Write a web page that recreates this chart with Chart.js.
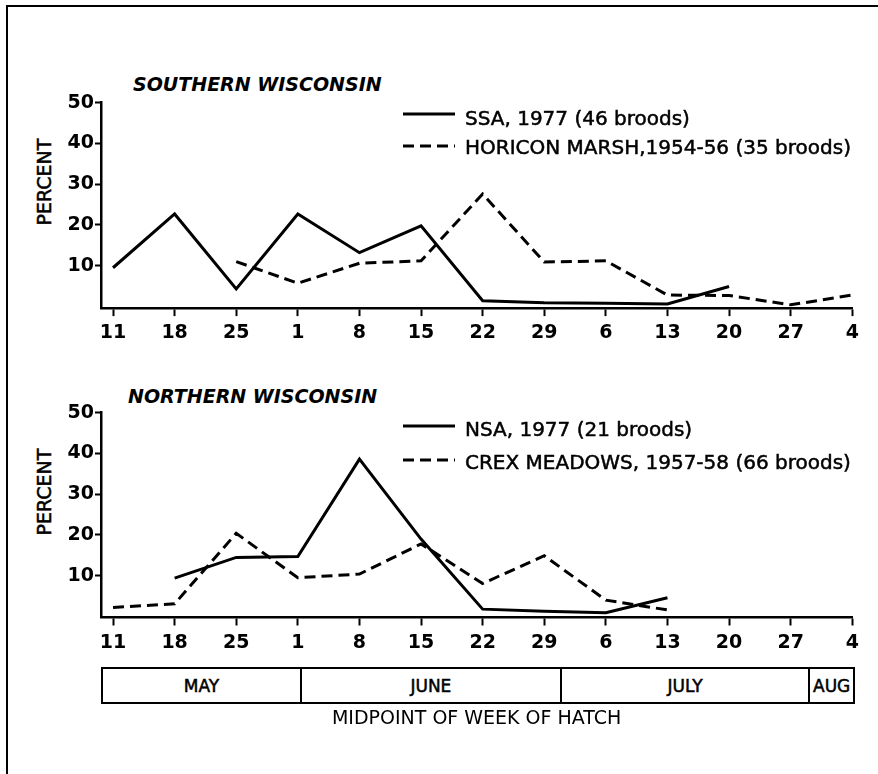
<!DOCTYPE html>
<html>
<head>
<meta charset="utf-8">
<script src="https://cdn.jsdelivr.net/npm/chart.js@4.4.1/dist/chart.umd.min.js"></script>
<style>
  html, body { margin: 0; padding: 0; background: #fff; }
  body { width: 878px; height: 774px; position: relative; overflow: hidden;
         font-family: "DejaVu Sans", sans-serif; color: #000; }
  #frame { position: absolute; left: 6px; top: 5px; width: 900px; height: 800px;
           border-top: 2px solid #000; border-left: 2px solid #000; }
  .panel { position: absolute; left: 0; }
  canvas { display: block; }
  .ptitle { position: absolute; font: italic bold 19px "DejaVu Sans", sans-serif;
            line-height: 20px; white-space: nowrap; }
  .ylab { position: absolute; font-size: 19px; line-height: 19px; white-space: nowrap;
          -webkit-text-stroke: 0.5px #000;
          transform: translate(-50%, -50%) rotate(-90deg); }
  .lrow { position: absolute; height: 30px; line-height: 30px; font-size: 20px; white-space: nowrap;
          -webkit-text-stroke: 0.5px #000; }
  .lrow svg { position: absolute; left: 0; }
  .lrow span { position: absolute; left: 62px; top: 0; }
  .mcell { position: absolute; box-sizing: border-box; border: 2px solid #000;
           display: flex; align-items: center; justify-content: center;
           font-size: 17px; background: #fff; -webkit-text-stroke: 0.5px #000; }
</style>
</head>
<body>
<div id="frame"></div>

<div class="ptitle" style="left:133px; top:74px;">SOUTHERN WISCONSIN</div>
<div class="ptitle" style="left:128px; top:386px;">NORTHERN WISCONSIN</div>
<div class="ylab" style="left:43.5px; top:182px;">PERCENT</div>
<div class="ylab" style="left:43.5px; top:492px;">PERCENT</div>

<div class="panel" style="top:0px;"><canvas id="south" width="878" height="350"></canvas></div>
<div class="panel" style="top:360px;"><canvas id="north" width="878" height="414"></canvas></div>
<div id="legendSouth"></div>
<div id="legendNorth"></div>
<div id="monthBar"></div>

<script>
// ---- data ----
const xLabels = ['11','18','25','1','8','15','22','29','6','13','20','27','4'];
const yTicks = [10, 20, 30, 40, 50];

const ssa1977   = [9.5, 22.7, 4.3, 22.7, 13.2, 19.8, 1.4, 0.9, 0.8, 0.6, 4.9, null, null];
const horicon   = [null, null, 11.0, 5.7, 10.6, 11.2, 27.6, 10.9, 11.2, 2.8, 2.7, 0.4, 2.8];
const nsa1977   = [null, 9.4, 14.5, 14.7, 38.6, 19.0, 1.8, 1.3, 0.9, 4.6, null, null, null];
const crex      = [2.2, 3.1, 20.4, 9.5, 10.4, 17.8, 8.1, 14.9, 4.0, 1.6, null, null, null];

const southLabels = ['SSA, 1977 (46 broods)', 'HORICON MARSH,1954-56 (35 broods)'];
const northLabels = ['NSA, 1977 (21 broods)', 'CREX MEADOWS, 1957-58 (66 broods)'];

const months = ['MAY', 'JUNE', 'JULY', 'AUG'];
const monthEdges = [-0.18, 3.05, 7.27, 11.3, 12.03]; // in week-index units of the x scale

// ---- drawing ----
const FONT = '"DejaVu Sans", sans-serif';
const DASH = [11, 6];

function toPoints(values) {
  return values.map((v, i) => ({ x: i, y: v })).filter(p => p.y !== null);
}

function makeChart(canvas, series, o) {
  return new Chart(canvas, {
    type: 'line',
    data: {
      datasets: series.map(s => ({
        label: s.label,
        data: toPoints(s.values),
        borderColor: '#000',
        backgroundColor: '#000',
        borderWidth: 3,
        borderDash: s.dash,
        pointRadius: 0,
        pointHoverRadius: 0,
        fill: false,
        tension: 0
      }))
    },
    options: {
      responsive: false,
      animation: false,
      devicePixelRatio: 1,
      events: [],
      layout: { padding: { top: o.padTop, left: 0, right: 25.7, bottom: o.padBottom } },
      plugins: { legend: { display: false }, tooltip: { enabled: false } },
      scales: {
        x: {
          type: 'linear', min: -0.195, max: 12,
          afterBuildTicks: s => { s.ticks = xLabels.map((_, i) => ({ value: i })); },
          afterFit: s => { s.height = o.xHeight; },
          ticks: { autoSkip: false, maxRotation: 0, color: '#000', padding: 6,
                   font: { family: FONT, size: 19, weight: 'bold' },
                   callback: (v, i) => xLabels[i] },
          grid: { drawOnChartArea: false, drawTicks: true, tickLength: 8, tickWidth: 2, tickColor: '#000' },
          border: { display: true, color: '#000', width: 2.5 },
          title: o.xTitle ? { display: true, text: o.xTitle, color: '#000',
                              font: { family: FONT, size: 19 }, padding: { top: 0, bottom: 0 } }
                          : { display: false }
        },
        y: {
          type: 'linear', min: o.yMin, max: 50,
          afterBuildTicks: s => { s.ticks = yTicks.map(v => ({ value: v })); },
          afterFit: s => { s.width = 101; },
          ticks: { color: '#000', padding: 1, font: { family: FONT, size: 19, weight: 'bold' } },
          grid: { drawOnChartArea: false, drawTicks: true, tickLength: 6, tickWidth: 2, tickColor: '#000' },
          border: { display: true, color: '#000', width: 2.5 }
        }
      }
    }
  });
}

const south = makeChart(document.getElementById('south'), [
  { label: southLabels[0], values: ssa1977, dash: [] },
  { label: southLabels[1], values: horicon, dash: DASH }
], { padTop: 102.7, padBottom: 1.9, xHeight: 40, yMin: -0.4 });

const north = makeChart(document.getElementById('north'), [
  { label: northLabels[0], values: nsa1977, dash: [] },
  { label: northLabels[1], values: crex, dash: DASH }
], { padTop: 52.7, padBottom: 43.6, xHeight: 112.9, yMin: -0.25, xTitle: 'MIDPOINT OF WEEK OF HATCH' });

// HTML legend built from the chart's datasets
function buildLegend(chart, host, rows) {
  chart.data.datasets.forEach((ds, i) => {
    const r = rows[i];
    const rowTop = r.text - 14.6;
    const row = document.createElement('div');
    row.className = 'lrow';
    row.style.left = '403px';
    row.style.top = rowTop + 'px';
    const svgNS = 'http://www.w3.org/2000/svg';
    const svg = document.createElementNS(svgNS, 'svg');
    svg.setAttribute('width', '52'); svg.setAttribute('height', '6');
    svg.style.top = (r.line - rowTop - 3) + 'px';
    const ln = document.createElementNS(svgNS, 'line');
    ln.setAttribute('x1', '0'); ln.setAttribute('x2', '52');
    ln.setAttribute('y1', '3'); ln.setAttribute('y2', '3');
    ln.setAttribute('stroke', ds.borderColor);
    ln.setAttribute('stroke-width', ds.borderWidth);
    if (ds.borderDash && ds.borderDash.length) ln.setAttribute('stroke-dasharray', ds.borderDash.join(' '));
    svg.appendChild(ln);
    const span = document.createElement('span');
    span.textContent = ds.label;
    row.appendChild(svg); row.appendChild(span);
    host.appendChild(row);
  });
}
buildLegend(south, document.getElementById('legendSouth'), [{ text: 117.5, line: 114.3 }, { text: 147, line: 146 }]);
buildLegend(north, document.getElementById('legendNorth'), [{ text: 429, line: 426 }, { text: 461.7, line: 460 }]);

// Month bar aligned on the lower chart's x scale
(function () {
  const xs = north.scales.x;
  const host = document.getElementById('monthBar');
  months.forEach((m, i) => {
    const a = xs.getPixelForValue(monthEdges[i]);
    const b = xs.getPixelForValue(monthEdges[i + 1]);
    const d = document.createElement('div');
    d.className = 'mcell';
    d.style.left = (a - 1) + 'px';
    d.style.width = (b - a + 2) + 'px';
    d.style.top = '667px';
    d.style.height = '37px';
    d.textContent = m;
    host.appendChild(d);
  });
})();
</script>
</body>
</html>
